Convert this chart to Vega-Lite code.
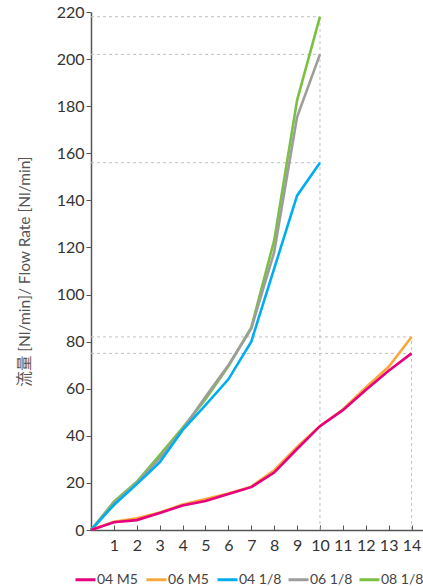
{
  "$schema": "https://vega.github.io/schema/vega-lite/v6.json",
  "width": 332,
  "height": 518,
  "autosize": {"type": "none"},
  "padding": {"left": 91, "top": 12, "right": 0, "bottom": 56},
  "config": {"view": {"stroke": null}, "font": "Lato"},
  "datasets": {
    "refs": [
      {"x": 0, "x2": 10, "y": 218, "y2": 218},
      {"x": 0, "x2": 10, "y": 202, "y2": 202},
      {"x": 0, "x2": 10, "y": 156, "y2": 156},
      {"x": 0, "x2": 14, "y": 82, "y2": 82},
      {"x": 0, "x2": 14, "y": 75, "y2": 75},
      {"x": 10, "x2": 10, "y": 0, "y2": 218},
      {"x": 14, "x2": 14, "y": 0, "y2": 82}
    ],
    "flow": [
      {"series": "08 1/8", "x": 0, "y": 0},
      {"series": "08 1/8", "x": 1, "y": 12},
      {"series": "08 1/8", "x": 2, "y": 20.5},
      {"series": "08 1/8", "x": 3, "y": 31.8},
      {"series": "08 1/8", "x": 4, "y": 43.4},
      {"series": "08 1/8", "x": 5, "y": 55.5},
      {"series": "08 1/8", "x": 6, "y": 69.5},
      {"series": "08 1/8", "x": 7, "y": 86},
      {"series": "08 1/8", "x": 8, "y": 123},
      {"series": "08 1/8", "x": 9, "y": 182.5},
      {"series": "08 1/8", "x": 10, "y": 218},
      {"series": "06 1/8", "x": 0, "y": 0},
      {"series": "06 1/8", "x": 1, "y": 11.3},
      {"series": "06 1/8", "x": 2, "y": 20},
      {"series": "06 1/8", "x": 3, "y": 30.4},
      {"series": "06 1/8", "x": 4, "y": 42.7},
      {"series": "06 1/8", "x": 5, "y": 56.6},
      {"series": "06 1/8", "x": 6, "y": 70},
      {"series": "06 1/8", "x": 7, "y": 85.5},
      {"series": "06 1/8", "x": 8, "y": 118},
      {"series": "06 1/8", "x": 9, "y": 175.4},
      {"series": "06 1/8", "x": 10, "y": 202},
      {"series": "04 1/8", "x": 0, "y": 0},
      {"series": "04 1/8", "x": 1, "y": 10.6},
      {"series": "04 1/8", "x": 2, "y": 19.5},
      {"series": "04 1/8", "x": 3, "y": 28.7},
      {"series": "04 1/8", "x": 4, "y": 42.4},
      {"series": "04 1/8", "x": 5, "y": 53},
      {"series": "04 1/8", "x": 6, "y": 64},
      {"series": "04 1/8", "x": 7, "y": 80},
      {"series": "04 1/8", "x": 8, "y": 111},
      {"series": "04 1/8", "x": 9, "y": 142},
      {"series": "04 1/8", "x": 10, "y": 156},
      {"series": "06 M5", "x": 0, "y": 0},
      {"series": "06 M5", "x": 1, "y": 3.5},
      {"series": "06 M5", "x": 2, "y": 5},
      {"series": "06 M5", "x": 3, "y": 7.4},
      {"series": "06 M5", "x": 4, "y": 10.8},
      {"series": "06 M5", "x": 5, "y": 13.2},
      {"series": "06 M5", "x": 6, "y": 15.5},
      {"series": "06 M5", "x": 7, "y": 18.4},
      {"series": "06 M5", "x": 8, "y": 25.4},
      {"series": "06 M5", "x": 9, "y": 35.3},
      {"series": "06 M5", "x": 10, "y": 44.2},
      {"series": "06 M5", "x": 11, "y": 51.2},
      {"series": "06 M5", "x": 12, "y": 60.5},
      {"series": "06 M5", "x": 13, "y": 69.3},
      {"series": "06 M5", "x": 14, "y": 82},
      {"series": "04 M5", "x": 0, "y": 0},
      {"series": "04 M5", "x": 1, "y": 3.3},
      {"series": "04 M5", "x": 2, "y": 4.2},
      {"series": "04 M5", "x": 3, "y": 7.2},
      {"series": "04 M5", "x": 4, "y": 10.4},
      {"series": "04 M5", "x": 5, "y": 12.3},
      {"series": "04 M5", "x": 6, "y": 15.3},
      {"series": "04 M5", "x": 7, "y": 18.2},
      {"series": "04 M5", "x": 8, "y": 24.4},
      {"series": "04 M5", "x": 9, "y": 34.4},
      {"series": "04 M5", "x": 10, "y": 44.1},
      {"series": "04 M5", "x": 11, "y": 50.9},
      {"series": "04 M5", "x": 12, "y": 59.5},
      {"series": "04 M5", "x": 13, "y": 67.6},
      {"series": "04 M5", "x": 14, "y": 75}
    ]
  },
  "encoding": {
    "x": {
      "field": "x",
      "type": "quantitative",
      "scale": {"domain": [0, 14.5], "nice": false, "zero": false},
      "axis": {
        "title": null,
        "values": [0, 1, 2, 3, 4, 5, 6, 7, 8, 9, 10, 11, 12, 13, 14],
        "labelExpr": "datum.value == 0 ? '' : datum.label",
        "grid": false,
        "tickSize": -5,
        "labelPadding": 12,
        "labelFontSize": 16,
        "labelColor": "#333333",
        "labelFont": "Lato",
        "domainColor": "#555555",
        "domainWidth": 1.5,
        "tickColor": "#555555",
        "tickWidth": 1
      }
    },
    "y": {
      "field": "y",
      "type": "quantitative",
      "scale": {"domain": [0, 220], "nice": false},
      "axis": {
        "title": "流量 [Nl/min]/ Flow Rate [Nl/min]",
        "titleFont": "Lato, Noto Sans CJK JP",
        "titleFontSize": 15.5,
        "titleFontWeight": "normal",
        "titleColor": "#555555",
        "titlePadding": 24,
        "values": [0, 20, 40, 60, 80, 100, 120, 140, 160, 180, 200, 220],
        "grid": false,
        "tickSize": 5,
        "labelPadding": 2,
        "labelFontSize": 16,
        "labelColor": "#333333",
        "labelFont": "Lato",
        "domainColor": "#555555",
        "domainWidth": 1.5,
        "tickColor": "#555555",
        "tickWidth": 1
      }
    }
  },
  "layer": [
    {
      "data": {"name": "refs"},
      "mark": {"type": "rule", "strokeDash": [3, 3], "color": "#c0c0c0", "strokeWidth": 1},
      "encoding": {
        "x2": {"field": "x2"},
        "y2": {"field": "y2"}
      }
    },
    {
      "data": {"name": "flow"},
      "mark": {"type": "line", "strokeWidth": 2.6},
      "encoding": {
        "color": {
          "field": "series",
          "type": "nominal",
          "scale": {
            "domain": ["04 M5", "06 M5", "04 1/8", "06 1/8", "08 1/8"],
            "range": ["#e6007e", "#f9a93b", "#00aeef", "#9d9d9c", "#7ac143"]
          },
          "legend": {
            "title": null,
            "orient": "none",
            "direction": "horizontal",
            "columns": 5,
            "gridAlign": "all",
            "legendX": -17,
            "legendY": 556,
            "symbolType": "stroke",
            "symbolSize": 400,
            "symbolStrokeWidth": 3,
            "labelFontSize": 14,
            "labelFont": "Lato",
            "labelColor": "#444444",
            "labelOffset": 0,
            "columnPadding": 0
          }
        }
      }
    }
  ]
}
